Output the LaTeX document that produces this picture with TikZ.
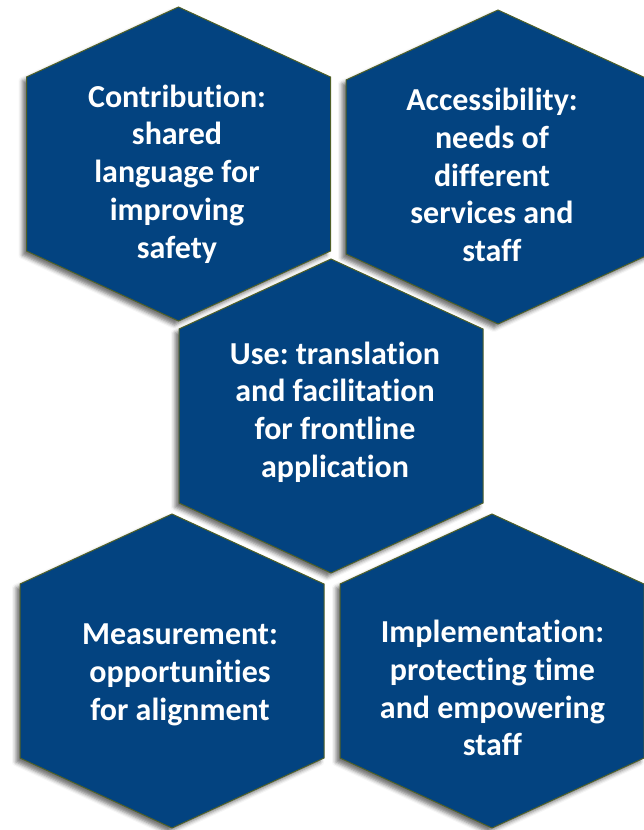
\documentclass[tikz,border=0pt]{standalone}
\usepackage{fontspec}
\setmainfont[Ligatures={NoCommon}]{Carlito}
\usetikzlibrary{shadows.blur}
\definecolor{hexblue}{RGB}{3,67,128}
\definecolor{hexedge}{RGB}{80,96,40}
\tikzset{
  hexa/.style={fill=hexblue, draw=hexedge, line width=1pt, line join=miter,
    blur shadow={shadow xshift=-4pt, shadow yshift=-4pt, shadow blur radius=4pt, shadow opacity=55}},
  lbl/.style={text=white, align=center, inner sep=0pt,
    font=\frenchspacing\bfseries\fontsize{32}{37.8}\selectfont}
}
\newcommand\hexat[1]{\path[hexa] (#1) ++(0,-157) -- ++(152,70) -- ++(0,174) -- ++(-152,70) -- ++(-152,-70) -- ++(0,-174) -- cycle;}
\begin{document}
\begin{tikzpicture}[x=1pt,y=-1pt]
\useasboundingbox (0,0) rectangle (644,830);
\coordinate (h1) at (178.5,164);
\coordinate (h2) at (498,167);
\coordinate (h3) at (331,416);
\coordinate (h4) at (172,671);
\coordinate (h5) at (492,671);
\hexat{h1}
\hexat{h2}
\hexat{h3}
\hexat{h4}
\hexat{h5}
\node[lbl] (t1) at (177,174) {Contribution:\\shared\\language for\\improving\\safety};
\node[lbl] (t2) at (492,175) {Accessibility:\\needs of\\different\\services and\\staff};
\node[lbl] (t3) at (335,412) {Use: translation\\and facilitation\\for frontline\\application};
\node[lbl] (t4) at (180,675) {Measurement:\\opportunities\\for alignment};
\node[lbl] (t5) at (492.5,688) {Implementation:\\protecting time\\and empowering\\staff};
\end{tikzpicture}
\end{document}
